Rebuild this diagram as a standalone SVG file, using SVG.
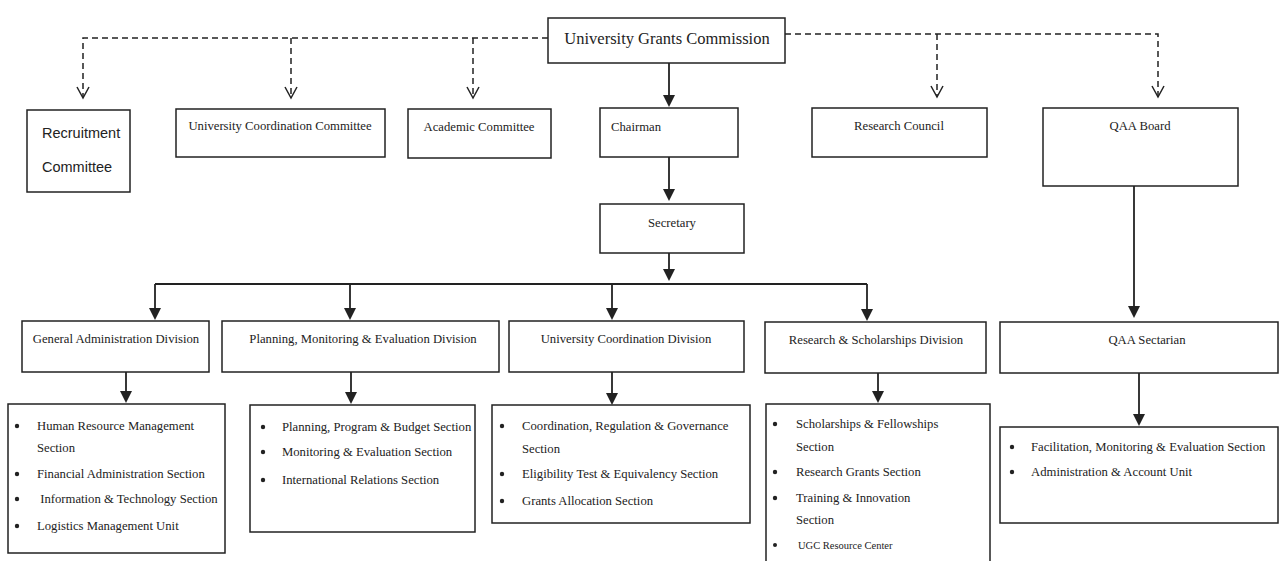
<svg xmlns="http://www.w3.org/2000/svg" width="1280" height="561" viewBox="0 0 1280 561">
<style>
.box{fill:#fff;stroke:#222;stroke-width:1.5}
.t{font-family:"Liberation Serif","Times New Roman",serif;font-size:12.7px;fill:#222}
.c{text-anchor:middle}
.s{font-family:"Liberation Sans",Arial,sans-serif;font-size:14.5px;fill:#222}
.big{font-size:16.5px}
.solid{stroke:#222;stroke-width:1.8;fill:none}
.dash{stroke:#222;stroke-width:1.5;fill:none;stroke-dasharray:6,4}
.v{stroke:#222;stroke-width:1.5;fill:none}
.b{fill:#222}
</style>
<rect width="1280" height="561" fill="#fff"/>
<g id="connectors">
<path class="dash" d="M548,38 H83 V97"/>
<path class="dash" d="M291,38 V97"/>
<path class="dash" d="M473,38 V97"/>
<path class="dash" d="M785,34 H1158 V97"/>
<path class="dash" d="M937,34 V97"/>
<path class="v" d="M77,87 L83,98 L89,87"/>
<path class="v" d="M285,87 L291,98 L297,87"/>
<path class="v" d="M467,87 L473,98 L479,87"/>
<path class="v" d="M931,86 L937,97 L943,86"/>
<path class="v" d="M1152,86 L1158,97 L1164,86"/>
<path class="solid" d="M669,63 V96"/><path class="b" d="M663,95 L675,95 L669,107 Z"/>
<path class="solid" d="M669,157 V190"/><path class="b" d="M663,189 L675,189 L669,201 Z"/>
<path class="solid" d="M669,253 V270"/><path class="b" d="M663,269 L675,269 L669,281 Z"/>
<path class="solid" d="M155,284 H867"/>
<path class="solid" d="M155,284 V309"/><path class="b" d="M149,308 L161,308 L155,320 Z"/>
<path class="solid" d="M350,284 V309"/><path class="b" d="M344,308 L356,308 L350,320 Z"/>
<path class="solid" d="M612,284 V309"/><path class="b" d="M606,308 L618,308 L612,320 Z"/>
<path class="solid" d="M867,284 V310"/><path class="b" d="M861,309 L873,309 L867,321 Z"/>
<path class="solid" d="M1134,186 V307"/><path class="b" d="M1128,306 L1140,306 L1134,318 Z"/>
<path class="solid" d="M126,372 V392"/><path class="b" d="M120,391 L132,391 L126,403 Z"/>
<path class="solid" d="M351,372 V393"/><path class="b" d="M345,392 L357,392 L351,404 Z"/>
<path class="solid" d="M612,372 V394"/><path class="b" d="M606,393 L618,393 L612,405 Z"/>
<path class="solid" d="M878,373 V392"/><path class="b" d="M872,391 L884,391 L878,403 Z"/>
<path class="solid" d="M1139,373 V415"/><path class="b" d="M1133,414 L1145,414 L1139,426 Z"/>
</g>
<g id="ugc"><rect class="box" x="548" y="18" width="237" height="45"/><text class="t c big" x="667" y="44">University Grants Commission</text></g>
<g id="recruitment"><rect class="box" x="27" y="110" width="103" height="82"/><text class="s" x="42" y="138">Recruitment</text><text class="s" x="42" y="172">Committee</text></g>
<g id="ucc"><rect class="box" x="176" y="109" width="209" height="48"/><text class="t c" x="280" y="130">University Coordination Committee</text></g>
<g id="academic"><rect class="box" x="408" y="109" width="143" height="49"/><text class="t c" x="479" y="131">Academic Committee</text></g>
<g id="chairman"><rect class="box" x="600" y="108" width="138" height="49"/><text class="t" x="611" y="131">Chairman</text></g>
<g id="research-council"><rect class="box" x="812" y="108" width="175" height="49"/><text class="t c" x="899" y="130">Research Council</text></g>
<g id="qaa-board"><rect class="box" x="1043" y="108" width="195" height="78"/><text class="t c" x="1140" y="130">QAA Board</text></g>
<g id="secretary"><rect class="box" x="600" y="204" width="144" height="49"/><text class="t c" x="672" y="227">Secretary</text></g>
<g id="gad"><rect class="box" x="22" y="321" width="187" height="51"/><text class="t c" x="116" y="343">General Administration Division</text></g>
<g id="pmed"><rect class="box" x="222" y="321" width="277" height="51"/><text class="t c" x="363" y="343">Planning, Monitoring &amp; Evaluation Division</text></g>
<g id="ucd"><rect class="box" x="509" y="321" width="235" height="51"/><text class="t c" x="626" y="343">University Coordination Division</text></g>
<g id="rsd"><rect class="box" x="765" y="322" width="221" height="51"/><text class="t c" x="876" y="344">Research &amp; Scholarships Division</text></g>
<g id="qaa-sec"><rect class="box" x="1000" y="322" width="278" height="51"/><text class="t c" x="1147" y="344">QAA Sectarian</text></g>
<g id="gad-list"><rect class="box" x="8" y="404" width="217" height="149"/>
<circle class="b" cx="17" cy="426" r="2.2"/><text class="t" x="37" y="430">Human Resource Management</text><text class="t" x="37" y="452">Section</text>
<circle class="b" cx="17" cy="474" r="2.2"/><text class="t" x="37" y="478">Financial Administration Section</text>
<circle class="b" cx="17" cy="499" r="2.2"/><text class="t" x="37" y="503" xml:space="preserve"> Information &amp; Technology Section</text>
<circle class="b" cx="17" cy="526" r="2.2"/><text class="t" x="37" y="530">Logistics Management Unit</text></g>
<g id="pme-list"><rect class="box" x="250" y="405" width="225" height="127"/>
<circle class="b" cx="263" cy="427" r="2.2"/><text class="t" x="282" y="431">Planning, Program &amp; Budget Section</text>
<circle class="b" cx="263" cy="452" r="2.2"/><text class="t" x="282" y="456">Monitoring &amp; Evaluation Section</text>
<circle class="b" cx="263" cy="480" r="2.2"/><text class="t" x="282" y="484">International Relations Section</text></g>
<g id="ucd-list"><rect class="box" x="492" y="405" width="258" height="118"/>
<circle class="b" cx="502" cy="426" r="2.2"/><text class="t" x="522" y="430">Coordination, Regulation &amp; Governance</text><text class="t" x="522" y="453">Section</text>
<circle class="b" cx="502" cy="474" r="2.2"/><text class="t" x="522" y="478">Eligibility Test &amp; Equivalency Section</text>
<circle class="b" cx="502" cy="501" r="2.2"/><text class="t" x="522" y="505">Grants Allocation Section</text></g>
<g id="rs-list"><rect class="box" x="766" y="404" width="224" height="165"/>
<circle class="b" cx="775" cy="424" r="2.2"/><text class="t" x="796" y="428">Scholarships &amp; Fellowships</text><text class="t" x="796" y="451">Section</text>
<circle class="b" cx="775" cy="472" r="2.2"/><text class="t" x="796" y="476">Research Grants Section</text>
<circle class="b" cx="775" cy="498" r="2.2"/><text class="t" x="796" y="502">Training &amp; Innovation</text><text class="t" x="796" y="524">Section</text>
<circle class="b" cx="775" cy="545" r="2"/><text class="t" x="798" y="549" style="font-size:10.5px">UGC Resource Center</text></g>
<g id="qaa-list"><rect class="box" x="1000" y="427" width="278" height="96"/>
<circle class="b" cx="1012" cy="447" r="2.2"/><text class="t" x="1031" y="451">Facilitation, Monitoring &amp; Evaluation Section</text>
<circle class="b" cx="1012" cy="472" r="2.2"/><text class="t" x="1031" y="476">Administration &amp; Account Unit</text></g>
</svg>
